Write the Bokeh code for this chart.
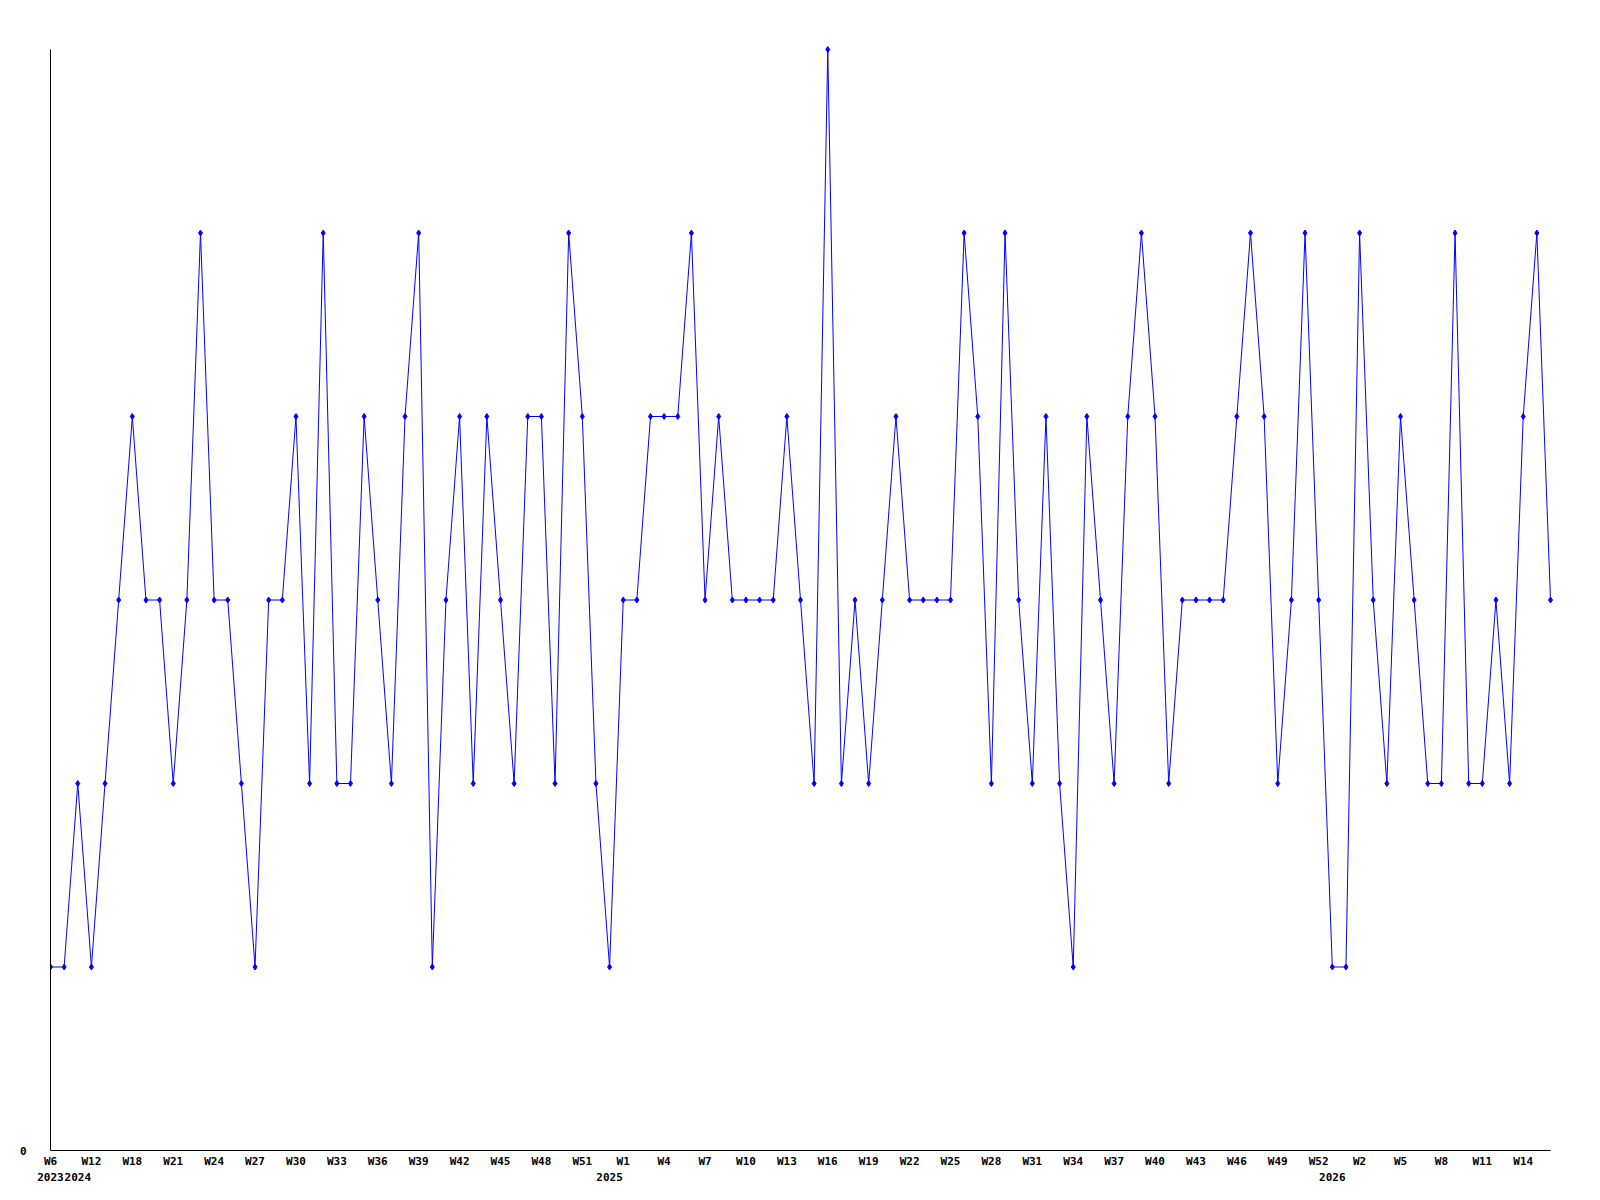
from bokeh.plotting import figure
from bokeh.models import Range1d, FixedTicker, LinearAxis
from bokeh.embed import file_html
from bokeh.resources import INLINE

# Values per weekly point (111 points)
values = [1, 1, 2, 1, 2, 3, 4, 3, 3, 2, 3, 5, 3, 3, 2, 1, 3, 3, 4, 2,
          5, 2, 2, 4, 3, 2, 4, 5, 1, 3, 4, 2, 4, 3, 2, 4, 4, 2, 5, 4,
          2, 1, 3, 3, 4, 4, 4, 5, 3, 4, 3, 3, 3, 3, 4, 3, 2, 6, 2, 3,
          2, 3, 4, 3, 3, 3, 3, 5, 4, 2, 5, 3, 2, 4, 2, 1, 4, 3, 2, 4,
          5, 4, 2, 3, 3, 3, 3, 4, 5, 4, 2, 3, 5, 3, 1, 1, 5, 3, 2, 4,
          3, 2, 2, 5, 2, 2, 3, 2, 4, 5, 3]

week_labels = ["W6", "W12", "W18", "W21", "W24", "W27", "W30", "W33", "W36",
               "W39", "W42", "W45", "W48", "W51", "W1", "W4", "W7", "W10",
               "W13", "W16", "W19", "W22", "W25", "W28", "W31", "W34", "W37",
               "W40", "W43", "W46", "W49", "W52", "W2", "W5", "W8", "W11", "W14"]
week_label_pos = list(range(0, 3 * len(week_labels), 3))

year_labels = ["2023", "2024", "2025", "2026"]
year_label_pos = [0, 2, 41, 94]

xs = list(range(len(values)))
n_last = len(values) - 1
y_max = 6

FONT = "DejaVu Sans Mono"

# a few px of padding on top / right so the edge markers show fully
x_pad = 6 / (1500 / n_last)
y_pad = 6 / (1101 / y_max)

p = figure(width=1592, height=1192, output_backend="svg", toolbar_location=None,
           x_range=Range1d(0, n_last + x_pad), y_range=Range1d(0, y_max + y_pad),
           min_border_left=50, min_border_right=36, min_border_top=43,
           min_border_bottom=42, x_axis_location=None, y_axis_location=None)
p.outline_line_color = None
p.xgrid.visible = False
p.ygrid.visible = False
p.background_fill_color = "white"
p.border_fill_color = "white"

p.line(xs, values, line_color="#0000ff", line_width=1)
p.scatter(xs, values, marker="diamond", size=6, fill_color="#0000ff",
          line_color="#0000ff", line_width=1)


def style(ax):
    ax.major_tick_out = 0
    ax.major_tick_in = 0
    ax.minor_tick_out = 0
    ax.minor_tick_in = 0
    ax.major_label_text_font = FONT
    ax.major_label_text_font_style = "bold"
    ax.major_label_text_font_size = "11px"
    ax.major_label_text_color = "black"
    ax.axis_line_color = "black"
    ax.axis_line_width = 1


# y axis
yax = LinearAxis(ticker=FixedTicker(ticks=[0]), bounds=(0, y_max))
style(yax)
yax.major_label_standoff = 24
p.add_layout(yax, "left")

# x axis: week labels
xax = LinearAxis(ticker=FixedTicker(ticks=week_label_pos), bounds=(0, n_last))
style(xax)
xax.major_label_overrides = {pos: lab for pos, lab in zip(week_label_pos, week_labels)}
xax.major_label_standoff = 4
p.add_layout(xax, "below")

# x axis: year labels
yrax = LinearAxis(ticker=FixedTicker(ticks=year_label_pos), bounds=(0, n_last))
style(yrax)
yrax.major_label_overrides = {pos: lab for pos, lab in zip(year_label_pos, year_labels)}
yrax.major_label_standoff = 2
yrax.axis_line_color = None
p.add_layout(yrax, "below")

open("out.html", "w").write(file_html(p, INLINE))
